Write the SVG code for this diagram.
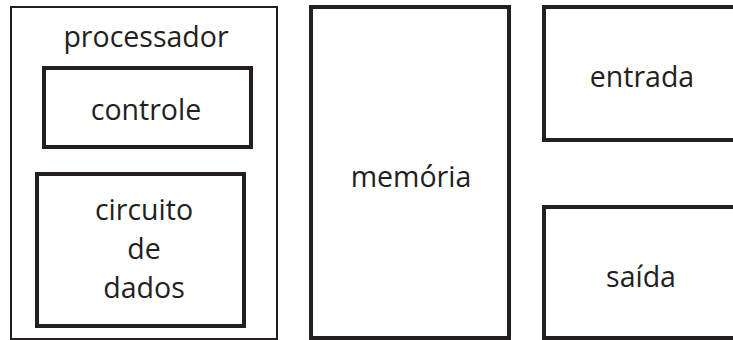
<svg xmlns="http://www.w3.org/2000/svg" width="733" height="340" viewBox="0 0 733 340">
<style>
.thin{fill:none;stroke:#231f20;stroke-width:2}
.thick{fill:none;stroke:#231f20;stroke-width:4}
text{font-family:"Open Sans","Noto Sans","DejaVu Sans",sans-serif;font-size:28.5px;fill:#231f20;text-anchor:middle}
</style>
<rect width="733" height="340" fill="#fff"/>
<g id="processador">
<rect class="thin" x="11" y="7" width="266" height="332"/>
<text x="146" y="47">processador</text>
</g>
<g id="controle">
<rect class="thick" x="44" y="68" width="207" height="79"/>
<text x="146" y="120">controle</text>
</g>
<g id="circuito">
<rect class="thick" x="37" y="174" width="207" height="152"/>
<text x="144" y="220">circuito</text>
<text x="144" y="259">de</text>
<text x="144" y="298">dados</text>
</g>
<g id="memoria">
<rect class="thick" x="311" y="7" width="198" height="331"/>
<text x="411" y="187">memória</text>
</g>
<g id="entrada">
<rect class="thick" x="544" y="7" width="200" height="133"/>
<text x="642" y="87">entrada</text>
</g>
<g id="saida">
<rect class="thick" x="544" y="207" width="200" height="131"/>
<text x="641" y="287">saída</text>
</g>
<g id="connectors"></g>
</svg>
